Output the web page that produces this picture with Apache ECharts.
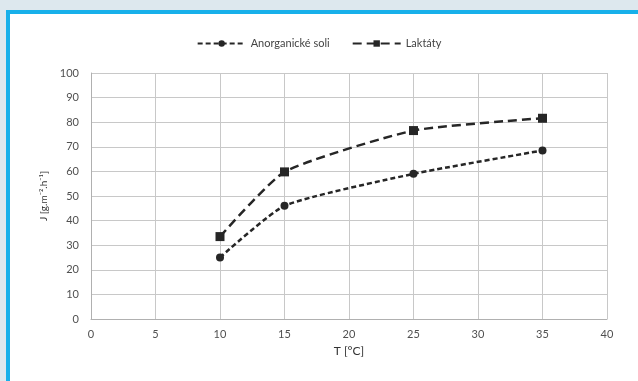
<!DOCTYPE html>
<html><head><meta charset="utf-8">
<script src="https://cdn.jsdelivr.net/npm/echarts@6/dist/echarts.min.js"></script>
<style>html,body{margin:0;padding:0;background:#dde8ee;}#c{width:638px;height:381px;}</style>
</head><body><div id="c"></div>
<script>
const xValues = [10, 15, 25, 35];
const anorganicke = [25, 46, 59, 68.5];
const laktaty = [33.5, 59.8, 76.6, 81.6];
const seriesNames = ['Anorganické soli', 'Laktáty'];

const chart = echarts.init(document.getElementById('c'));
const font = 'Lato, "Open Sans", sans-serif';
chart.setOption({
  animation: false,
  backgroundColor: '#dde8ee',
  graphic: [
    {type: 'rect', z: -10, shape: {x: 6, y: 10, width: 640, height: 380}, style: {fill: '#17b0ea'}},
    {type: 'rect', z: -9, shape: {x: 10, y: 14, width: 640, height: 380}, style: {fill: '#ffffff'}}
  ],
  legend: {
    top: 33, left: 'center', itemGap: 22, itemWidth: 48, itemHeight: 8,
    textStyle: {fontFamily: font, fontSize: 11, color: '#444'},
    data: seriesNames
  },
  grid: {left: 91, right: 31, top: 73, bottom: 62},
  xAxis: {
    type: 'value', min: 0, max: 40, interval: 5,
    name: 'T [°C]', nameLocation: 'middle', nameGap: 25,
    nameTextStyle: {fontFamily: font, fontSize: 12, color: '#333'},
    axisLine: {lineStyle: {color: '#b0b0b0'}}, axisTick: {show: false},
    axisLabel: {fontFamily: font, fontSize: 11, color: '#505050', margin: 10},
    splitLine: {lineStyle: {color: '#c8c8c8'}}
  },
  yAxis: {
    type: 'value', min: 0, max: 100, interval: 10,
    name: 'J [g.m⁻².h⁻¹]', nameLocation: 'middle', nameGap: 33,
    nameTextStyle: {fontFamily: font, fontSize: 10, color: '#333'},
    axisLine: {show: true, lineStyle: {color: '#b0b0b0'}}, axisTick: {show: false},
    axisLabel: {fontFamily: font, fontSize: 11, color: '#505050', margin: 12},
    splitLine: {lineStyle: {color: '#c8c8c8'}}
  },
  series: [
    {
      name: seriesNames[0], type: 'line', smooth: 0.18,
      data: xValues.map((x, i) => [x, anorganicke[i]]),
      symbol: 'circle', symbolSize: 8,
      lineStyle: {color: '#262626', width: 2.5, type: [5, 3]},
      itemStyle: {color: '#262626'}
    },
    {
      name: seriesNames[1], type: 'line', smooth: 0.18,
      data: xValues.map((x, i) => [x, laktaty[i]]),
      symbol: 'rect', symbolSize: 9,
      lineStyle: {color: '#262626', width: 2.5, type: [9, 5]},
      itemStyle: {color: '#262626'}
    }
  ]
});
</script></body></html>
